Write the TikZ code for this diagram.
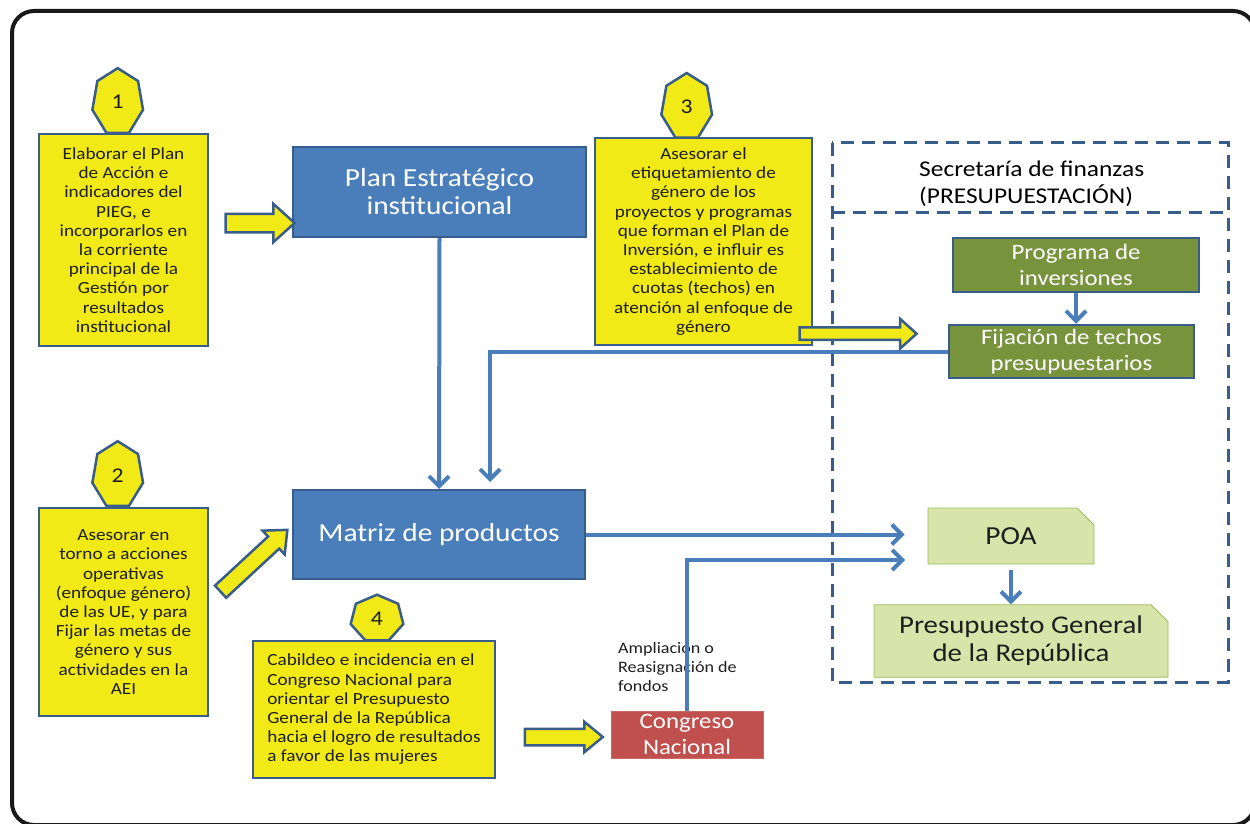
\documentclass[tikz,border=0pt]{standalone}
\usepackage{fontspec}
\setmainfont{Carlito}[FakeStretch=1.13]
\usetikzlibrary{shapes.arrows,shapes.misc,arrows.meta,calc}

\definecolor{boxyellow}{RGB}{242,234,22}
\definecolor{edgeblue}{RGB}{56,93,138}
\definecolor{fillblue}{RGB}{74,126,187}
\definecolor{fillgreen}{RGB}{119,147,60}
\definecolor{palegreen}{RGB}{215,228,170}
\definecolor{edgegreen}{RGB}{155,187,89}
\definecolor{congred}{RGB}{192,80,77}
\definecolor{textdark}{RGB}{30,30,30}

% number badge: name, centre, number, x radius, y radius
\newcommand{\numbadge}[5]{%
\coordinate (#1) at (#2);
\filldraw[badge] ($(#1)+(90:#4 and #5)$)
  \foreach \k in {1,...,6} { -- ($(#1)+(90+\k*51.4286:#4 and #5)$) } -- cycle;
\node[text=textdark,font=\fontsize{21}{21}\selectfont] (#1n) at (#1) {#3};
}

\begin{document}
\begin{tikzpicture}[x=1pt,y=-1pt,
  badge/.style={fill=boxyellow,draw=edgeblue,line width=2.5pt},
  yellowbox/.style={draw=edgeblue,fill=boxyellow,line width=2.5pt,text=textdark,
    align=center,inner sep=0pt,font=\fontsize{17}{19.2}\selectfont},
  bluebox/.style={draw=edgeblue,fill=fillblue,line width=2pt,text=white,
    align=center,font=\fontsize{26}{28}\selectfont},
  greenbox/.style={draw=edgeblue,fill=fillgreen,line width=2.5pt,text=white,
    align=center,font=\fontsize{22}{25.5}\selectfont},
  palebox/.style={draw=edgegreen,fill=palegreen,line width=0.8pt,text=textdark,
    align=center,chamfered rectangle,chamfered rectangle corners=north east,
    chamfered rectangle xsep=9pt,chamfered rectangle ysep=8pt},
  region/.style={draw=edgeblue,line width=3pt,dash pattern=on 13pt off 8pt},
  link/.style={draw=fillblue,line width=4pt,-{Straight Barb[length=10pt,width=20pt]}},
  blockarrow/.style={single arrow,draw=edgeblue,fill=boxyellow,line width=2.5pt,
    inner xsep=0pt,minimum width=1pt}]
\useasboundingbox (0,0) rectangle (1250,824);

% outer frame
\draw[line width=4pt,rounded corners=22pt,color=black!90] (12,11) rectangle (1255,825);

% Secretaria de finanzas
\draw[region] (832,143) rectangle (1228,682);
\draw[region] (832,212) -- (1228,212);
\node[font=\fontsize{22.5}{26.7}\selectfont,align=left,anchor=west,inner sep=0pt]
  (secr) at (919,184) {Secretaría de finanzas\\(PRESUPUESTACIÓN)};

% badges
\numbadge{b1}{117.7,102.2}{1}{26pt}{34pt}
\numbadge{b2}{117.7,475.2}{2}{26pt}{34pt}
\numbadge{b3}{686.7,107}{3}{26pt}{34pt}
\numbadge{b4}{377,618.7}{4}{27pt}{24pt}

% yellow boxes
\node[yellowbox,minimum width=169pt,minimum height=212pt] (act1) at (123.5,240)
  {Elaborar el Plan\\de Acción e\\indicadores del\\PIEG, e\\incorporarlos en\\la corriente\\principal de la\\Gestión por\\resultados\\institucional};
\node[yellowbox,minimum width=169pt,minimum height=208pt] (act2) at (123.5,612)
  {Asesorar en\\torno a acciones\\operativas\\(enfoque género)\\de las UE, y para\\Fijar las metas de\\género y sus\\actividades en la\\AEI};
\node[yellowbox,minimum width=217pt,minimum height=207pt] (act3) at (703.5,241.5)
  {Asesorar el\\etiquetamiento de\\género de los\\proyectos y programas\\que forman el Plan de\\Inversión, e influir es\\establecimiento de\\cuotas (techos) en\\atención al enfoque de\\género};
\node[yellowbox,align=left,minimum width=242pt,minimum height=137pt] (act4) at (374,709.5)
  {Cabildeo e incidencia en el\\Congreso Nacional para\\orientar el Presupuesto\\General de la República\\hacia el logro de resultados\\a favor de las mujeres};

% process boxes
\node[bluebox,minimum width=293pt,minimum height=90pt] (plan) at (439.5,192) {Plan Estratégico\\institucional};
\node[bluebox,minimum width=292pt,minimum height=89pt] (mat) at (439,534.5) {Matriz de productos};
\node[greenbox,minimum width=246pt,minimum height=54pt] (prog) at (1076,265) {Programa de\\inversiones};
\node[greenbox,minimum width=245pt,minimum height=53pt] (fij) at (1071.5,351.5) {Fijación de techos\\presupuestarios};
\node[palebox,minimum width=166pt,minimum height=56pt,font=\fontsize{26}{28}\selectfont] (poa) at (1011,536) {POA};
\node[palebox,minimum width=294pt,minimum height=56pt,font=\fontsize{25.5}{28}\selectfont] (pgr) at (1021,641) {Presupuesto General\\de la República};
\node[fill=congred,draw=congred!85!white,line width=1pt,text=white,align=center,
  minimum width=152pt,minimum height=47pt,inner sep=0pt,font=\fontsize{22}{26}\selectfont] (cong) at (687,734.5) {Congreso\\Nacional};
\node[text=textdark,font=\fontsize{16}{19}\selectfont,align=left,anchor=west,inner sep=0pt]
  (ampl) at (618,667) {Ampliación o\\Reasignación de\\fondos};

% connectors
\coordinate (fijend) at (490,482);
\coordinate (poaend) at (905,560);
\draw[link] (plan.south) -- (mat.north);
\draw[link] (fij.west) -| (fijend);
\draw[link,shorten >=23pt] (mat.east) -- (mat.east -| poa.west);
\draw[link] (cong.north) |- (poaend);
\draw[link,shorten <=6pt] (poa.south) -- (poa.south |- pgr.north);
\draw[link] (prog.south) -- (prog.south |- fij.north);

% yellow block arrows
\node[blockarrow,minimum height=69pt,inner ysep=8pt,single arrow head extend=10pt,
  single arrow tip angle=84] (ya1) at (255,223) {};
\node[blockarrow,minimum height=91pt,inner ysep=7pt,single arrow head extend=8pt,
  single arrow tip angle=82,rotate=42.8] (ya2) at (250.5,564) {};
\node[blockarrow,minimum height=117pt,inner ysep=5pt,single arrow head extend=8.5pt,
  single arrow tip angle=84] (ya3) at (854.6,333.7) {};
\node[blockarrow,minimum height=78pt,inner ysep=7pt,single arrow head extend=7pt,
  single arrow tip angle=79] (ya4) at (558.8,737) {};
\end{tikzpicture}
\end{document}
